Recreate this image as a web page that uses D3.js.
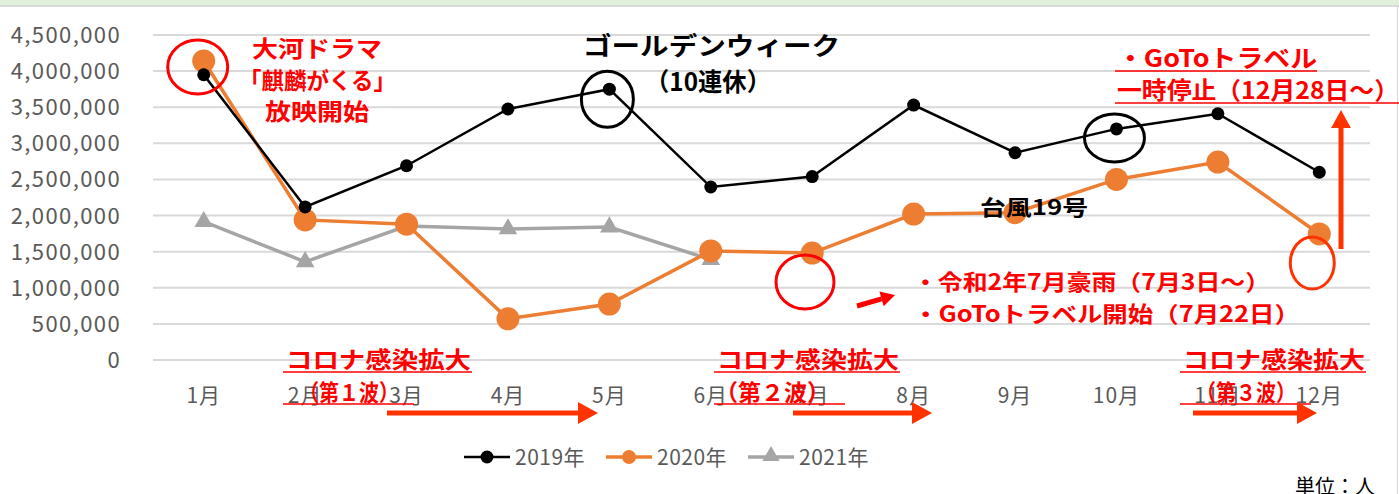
<!DOCTYPE html>
<html lang="ja">
<head>
<meta charset="UTF-8">
<title>観光客数の推移</title>
<style>
  body { margin: 0; background: #fff; }
  svg { display: block; font-family: "Noto Sans CJK JP", "Noto Sans", sans-serif; }
</style>
<script src="https://d3js.org/d3.v7.min.js"></script>
</head>
<body>
<svg width="1399" height="494"></svg>
<script>
// データ
var months = ["1月","2月","3月","4月","5月","6月","7月","8月","9月","10月","11月","12月"];
var v2019 = [3950000, 2120000, 2690000, 3475000, 3750000, 2395000, 2540000, 3530000, 2870000, 3200000, 3410000, 2600000];
var v2020 = [4140000, 1940000, 1880000, 570000, 775000, 1510000, 1480000, 2020000, 2040000, 2500000, 2740000, 1745000];
var v2021 = [1915000, 1360000, 1855000, 1815000, 1840000, 1390000];
var yTicks = [0, 500000, 1000000, 1500000, 2000000, 2500000, 3000000, 3500000, 4000000, 4500000];
var seriesNames = ["2019年", "2020年", "2021年"];

var width = 1399, height = 494;
var svg = d3.select("svg");

// 背景と枠
svg.append("rect").attr("width", width).attr("height", height).attr("fill", "#fff");
svg.append("rect").attr("x", 0).attr("y", 0).attr("width", width).attr("height", 5).attr("fill", "#E2EFDA");
svg.append("line").attr("x1", 0).attr("x2", width).attr("y1", 6).attr("y2", 6).attr("stroke", "#D9D9D9").attr("stroke-width", 2);
svg.append("line").attr("x1", 1397.5).attr("x2", 1397.5).attr("y1", 6).attr("y2", height).attr("stroke", "#D9D9D9");

// スケール
var x = d3.scalePoint().domain(months).range([153, 1370]).padding(0.5);
var y = d3.scaleLinear().domain([0, 4500000]).range([360, 35]);

// グリッド線
svg.append("g").selectAll("line").data(yTicks).enter().append("line")
  .attr("x1", 153).attr("x2", 1370)
  .attr("y1", d => y(d)).attr("y2", d => y(d))
  .attr("stroke", "#D9D9D9").attr("stroke-width", 2);

// Y軸ラベル
svg.append("g").selectAll("text").data(yTicks).enter().append("text")
  .attr("x", 121).attr("y", d => y(d) + 8)
  .attr("text-anchor", "end")
  .attr("font-size", 22).attr("letter-spacing", 1.4).attr("fill", "#595959")
  .text(d => d3.format(",")(d));

// X軸ラベル
svg.append("g").selectAll("text").data(months).enter().append("text")
  .attr("x", d => x(d)).attr("y", 403)
  .attr("text-anchor", "middle")
  .attr("font-size", 21).attr("letter-spacing", 1).attr("fill", "#595959")
  .text(d => d);

var line = d3.line().x((d, i) => x(months[i])).y(d => y(d));

// 2021年
svg.append("path").datum(v2021).attr("d", line)
  .attr("fill", "none").attr("stroke", "#A5A5A5").attr("stroke-width", 3.5);
var tri = d3.symbol().type(d3.symbolTriangle).size(150);
svg.append("g").selectAll("path").data(v2021).enter().append("path")
  .attr("d", tri)
  .attr("transform", (d, i) => "translate(" + x(months[i]) + "," + y(d) + ")")
  .attr("fill", "#A5A5A5");

// 2020年
svg.append("path").datum(v2020).attr("d", line)
  .attr("fill", "none").attr("stroke", "#ED7D31").attr("stroke-width", 3.5);
svg.append("g").selectAll("circle").data(v2020).enter().append("circle")
  .attr("cx", (d, i) => x(months[i])).attr("cy", d => y(d)).attr("r", 11.5)
  .attr("fill", "#ED7D31");

// 2019年
svg.append("path").datum(v2019).attr("d", line)
  .attr("fill", "none").attr("stroke", "#000").attr("stroke-width", 2.5);
svg.append("g").selectAll("circle").data(v2019).enter().append("circle")
  .attr("cx", (d, i) => x(months[i])).attr("cy", d => y(d)).attr("r", 6.5)
  .attr("fill", "#000");

// 凡例
var legend = svg.append("g").attr("transform", "translate(0,457)");
var legendX = [464, 606, 748];
var legendColor = ["#000", "#ED7D31", "#A5A5A5"];
seriesNames.forEach(function(name, i) {
  var g = legend.append("g").attr("transform", "translate(" + legendX[i] + ",0)");
  g.append("line").attr("x1", 0).attr("x2", 46).attr("y1", 0).attr("y2", 0)
    .attr("stroke", legendColor[i]).attr("stroke-width", i === 0 ? 2.5 : 3.5);
  if (i === 2) {
    g.append("path").attr("d", d3.symbol().type(d3.symbolTriangle).size(130))
      .attr("transform", "translate(23,-1)").attr("fill", legendColor[i]);
  } else {
    g.append("circle").attr("cx", 23).attr("cy", 0).attr("r", i === 0 ? 6.5 : 7).attr("fill", legendColor[i]);
  }
  g.append("text").attr("x", 51).attr("y", 8).attr("font-size", 21).attr("letter-spacing", 0.5)
    .attr("fill", "#595959").text(name);
});

svg.append("text").attr("x", 1295).attr("y", 494).attr("font-size", 20).attr("fill", "#000").text("単位：人");

// 注釈
var RED = "#FF0000", ORG = "#FF3300";

function label(txt, xx, yy, size, color, len, anchor) {
  var t = svg.append("text").attr("x", xx).attr("y", yy)
    .attr("font-size", size).attr("font-weight", "bold").attr("fill", color)
    .attr("text-anchor", anchor || "start").text(txt);
  if (len) t.attr("textLength", len).attr("lengthAdjust", "spacingAndGlyphs");
  return t;
}
function uline(x1, x2, yy, color) {
  svg.append("line").attr("x1", x1).attr("x2", x2).attr("y1", yy).attr("y2", yy)
    .attr("stroke", color).attr("stroke-width", 1.5);
}
function ell(cx, cy, rx, ry, color) {
  svg.append("ellipse").attr("cx", cx).attr("cy", cy).attr("rx", rx).attr("ry", ry)
    .attr("fill", "none").attr("stroke", color).attr("stroke-width", 3);
}
function arrow(x1, y1, x2, y2, color, w, head) {
  var a = Math.atan2(y2 - y1, x2 - x1);
  var bx = x2 - head * Math.cos(a), by = y2 - head * Math.sin(a);
  svg.append("line").attr("x1", x1).attr("y1", y1).attr("x2", bx).attr("y2", by)
    .attr("stroke", color).attr("stroke-width", w);
  var hw = head * 0.55;
  var px = -Math.sin(a) * hw, py = Math.cos(a) * hw;
  svg.append("path")
    .attr("d", "M" + x2 + "," + y2 + "L" + (bx + px) + "," + (by + py) + "L" + (bx - px) + "," + (by - py) + "Z")
    .attr("fill", color);
}

// 1月 大河ドラマ
ell(x("1月") - 6, y(v2020[0]) + 6, 30, 27, RED);
label("大河ドラマ", 252, 57, 23, RED, 130);
label("「麒麟がくる」", 239, 89, 23, RED, 157);
label("放映開始", 265, 120, 23, RED, 104);

// ゴールデンウィーク
ell(x("5月") - 2, y(v2019[4]) + 10, 26, 28, "#000");
label("ゴールデンウィーク", 583, 55, 25, "#000", 257);
label("（10連休）", 645, 91, 25, "#000", 126);

// 台風19号
ell(x("10月") - 2, y(v2019[9]) + 9, 30, 24, "#000");
label("台風19号", 980, 215, 21, "#000", 108);

// GoToトラベル一時停止
label("・GoToトラベル", 1117, 67, 24, RED, 200);
uline(1115, 1317, 71, RED);
label("一時停止（12月28日～）", 1117, 99, 24, RED, 282);
uline(1115, 1399, 103, RED);
arrow(1341, 249, 1341, 110, ORG, 5, 18);
ell(x("12月") - 7, y(v2020[11]) + 29, 22, 26, ORG);

// 7月
ell(805, 282, 29, 27, RED);
arrow(857, 306, 895, 295, RED, 5, 14);
label("・令和2年7月豪雨（7月3日～）", 913, 290, 22, RED, 357);
label("・GoToトラベル開始（7月22日）", 913, 322, 22, RED, 387);

// コロナ感染拡大
function corona(x0, wave, w1, w2, sx, ax1, ax2) {
  label("コロナ感染拡大", x0, 368, 23, RED, w1);
  uline(x0 - 3, x0 + w1 + 1, 372, RED);
  label("（第" + wave + "波）", sx, 401, 23, RED, w2);
  uline(x0 - 3, sx + w2 + 15, 404, RED);
  arrow(ax1, 413, ax2, 413, ORG, 5, 20);
}
corona(286, "１", 185, 100, 299, 387, 598);
corona(717, "２", 182, 115, 715, 793, 932);
corona(1183, "３", 182, 100, 1196, 1193, 1317);
</script>
</body>
</html>
